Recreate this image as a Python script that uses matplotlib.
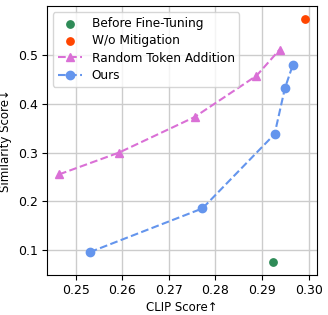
import matplotlib
matplotlib.use("Agg")
import matplotlib.pyplot as plt

before_x = [0.2924]
before_y = [0.074]
wo_x = [0.2992]
wo_y = [0.574]
rta_x = [0.2464, 0.2593, 0.2755, 0.2888, 0.2938]
rta_y = [0.255, 0.300, 0.373, 0.458, 0.512]
ours_x = [0.2530, 0.2772, 0.2927, 0.2949, 0.2966]
ours_y = [0.095, 0.185, 0.338, 0.432, 0.480]

fig = plt.figure(figsize=(3.28, 3.15), dpi=100)
ax = fig.add_axes([0.143, 0.127, 0.822, 0.853])
ax.scatter(before_x, before_y, color='seagreen', s=28, label='Before Fine-Tuning', zorder=3)
ax.scatter(wo_x, wo_y, color='orangered', s=28, label='W/o Mitigation', zorder=3)
ax.plot(rta_x, rta_y, '--^', color='orchid', markersize=6, label='Random Token Addition', zorder=3)
ax.plot(ours_x, ours_y, '--o', color='cornflowerblue', markersize=6, label='Ours', zorder=3)
ax.set_xlim(0.2438, 0.3017)
ax.set_ylim(0.048, 0.601)
ax.set_xticks([0.25, 0.26, 0.27, 0.28, 0.29, 0.30])
ax.set_yticks([0.1, 0.2, 0.3, 0.4, 0.5])
ax.grid(True, color='#cccccc', linewidth=1)
ax.set_axisbelow(True)
ax.tick_params(labelsize=9, pad=3)
ax.set_xlabel('CLIP Score↑', fontsize=8.5, labelpad=3)
ax.set_ylabel('Similarity Score↓', fontsize=8.5, labelpad=4)
ax.legend(loc='upper left', fontsize=8.7, handlelength=2, borderaxespad=0.5, labelspacing=0.35)
fig.savefig('out.png', dpi=100)
